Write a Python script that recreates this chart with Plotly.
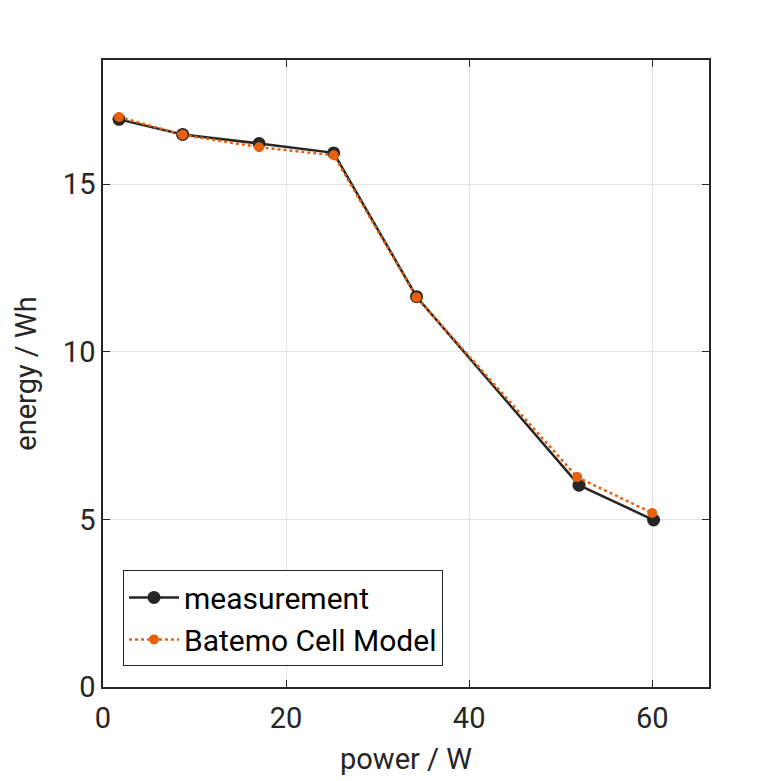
import plotly.graph_objects as go

# power in W and energy in Wh
power_meas = [1.75, 8.7, 17.05, 25.2, 34.25, 52.0, 60.15]
energy_meas = [16.93, 16.48, 16.21, 15.93, 11.64, 6.02, 4.98]

power_model = [1.75, 8.7, 17.05, 25.2, 34.25, 51.8, 60.0]
energy_model = [17.0, 16.47, 16.1, 15.86, 11.62, 6.26, 5.19]

x_ticks = [0, 20, 40, 60]
y_ticks = [0, 5, 10, 15]

black = "#262626"
orange = "#e8600c"

fig = go.Figure()
fig.add_trace(go.Scatter(
    x=power_meas, y=energy_meas, name="measurement",
    mode="lines+markers",
    line=dict(color=black, width=2.5),
    marker=dict(color=black, size=13),
))
fig.add_trace(go.Scatter(
    x=power_model, y=energy_model, name="Batemo Cell Model",
    mode="lines+markers",
    line=dict(color=orange, width=2.5, dash="dot"),
    marker=dict(color=orange, size=10),
))

axis_style = dict(
    showline=True, linecolor=black, linewidth=1.5, mirror="ticks",
    ticks="inside", ticklen=7, tickcolor=black, tickwidth=1.2,
    showgrid=True, gridcolor="#e3e3e3", gridwidth=1,
    zeroline=False,
    tickfont=dict(family="Roboto", size=29, color=black),
)

fig.update_xaxes(range=[0, 66.2], tickvals=x_ticks, ticklabelstandoff=4,
                 title=dict(text="power / W", font=dict(family="Roboto", size=29, color=black), standoff=15),
                 **axis_style)
fig.update_yaxes(range=[0, 18.7], tickvals=y_ticks,
                 title=dict(text="energy / Wh", font=dict(family="Roboto", size=29, color=black), standoff=18),
                 **axis_style)

fig.update_layout(
    width=781, height=781,
    margin=dict(l=95, r=80, t=52, b=102),
    plot_bgcolor="white", paper_bgcolor="white",
    legend=dict(
        x=0.033, y=0.186, xanchor="left", yanchor="top",
        bordercolor=black, borderwidth=1, bgcolor="white",
        font=dict(family="Roboto", size=30, color="black"),
        itemwidth=50, tracegroupgap=0,
    ),
)

fig.write_html("out.html")
